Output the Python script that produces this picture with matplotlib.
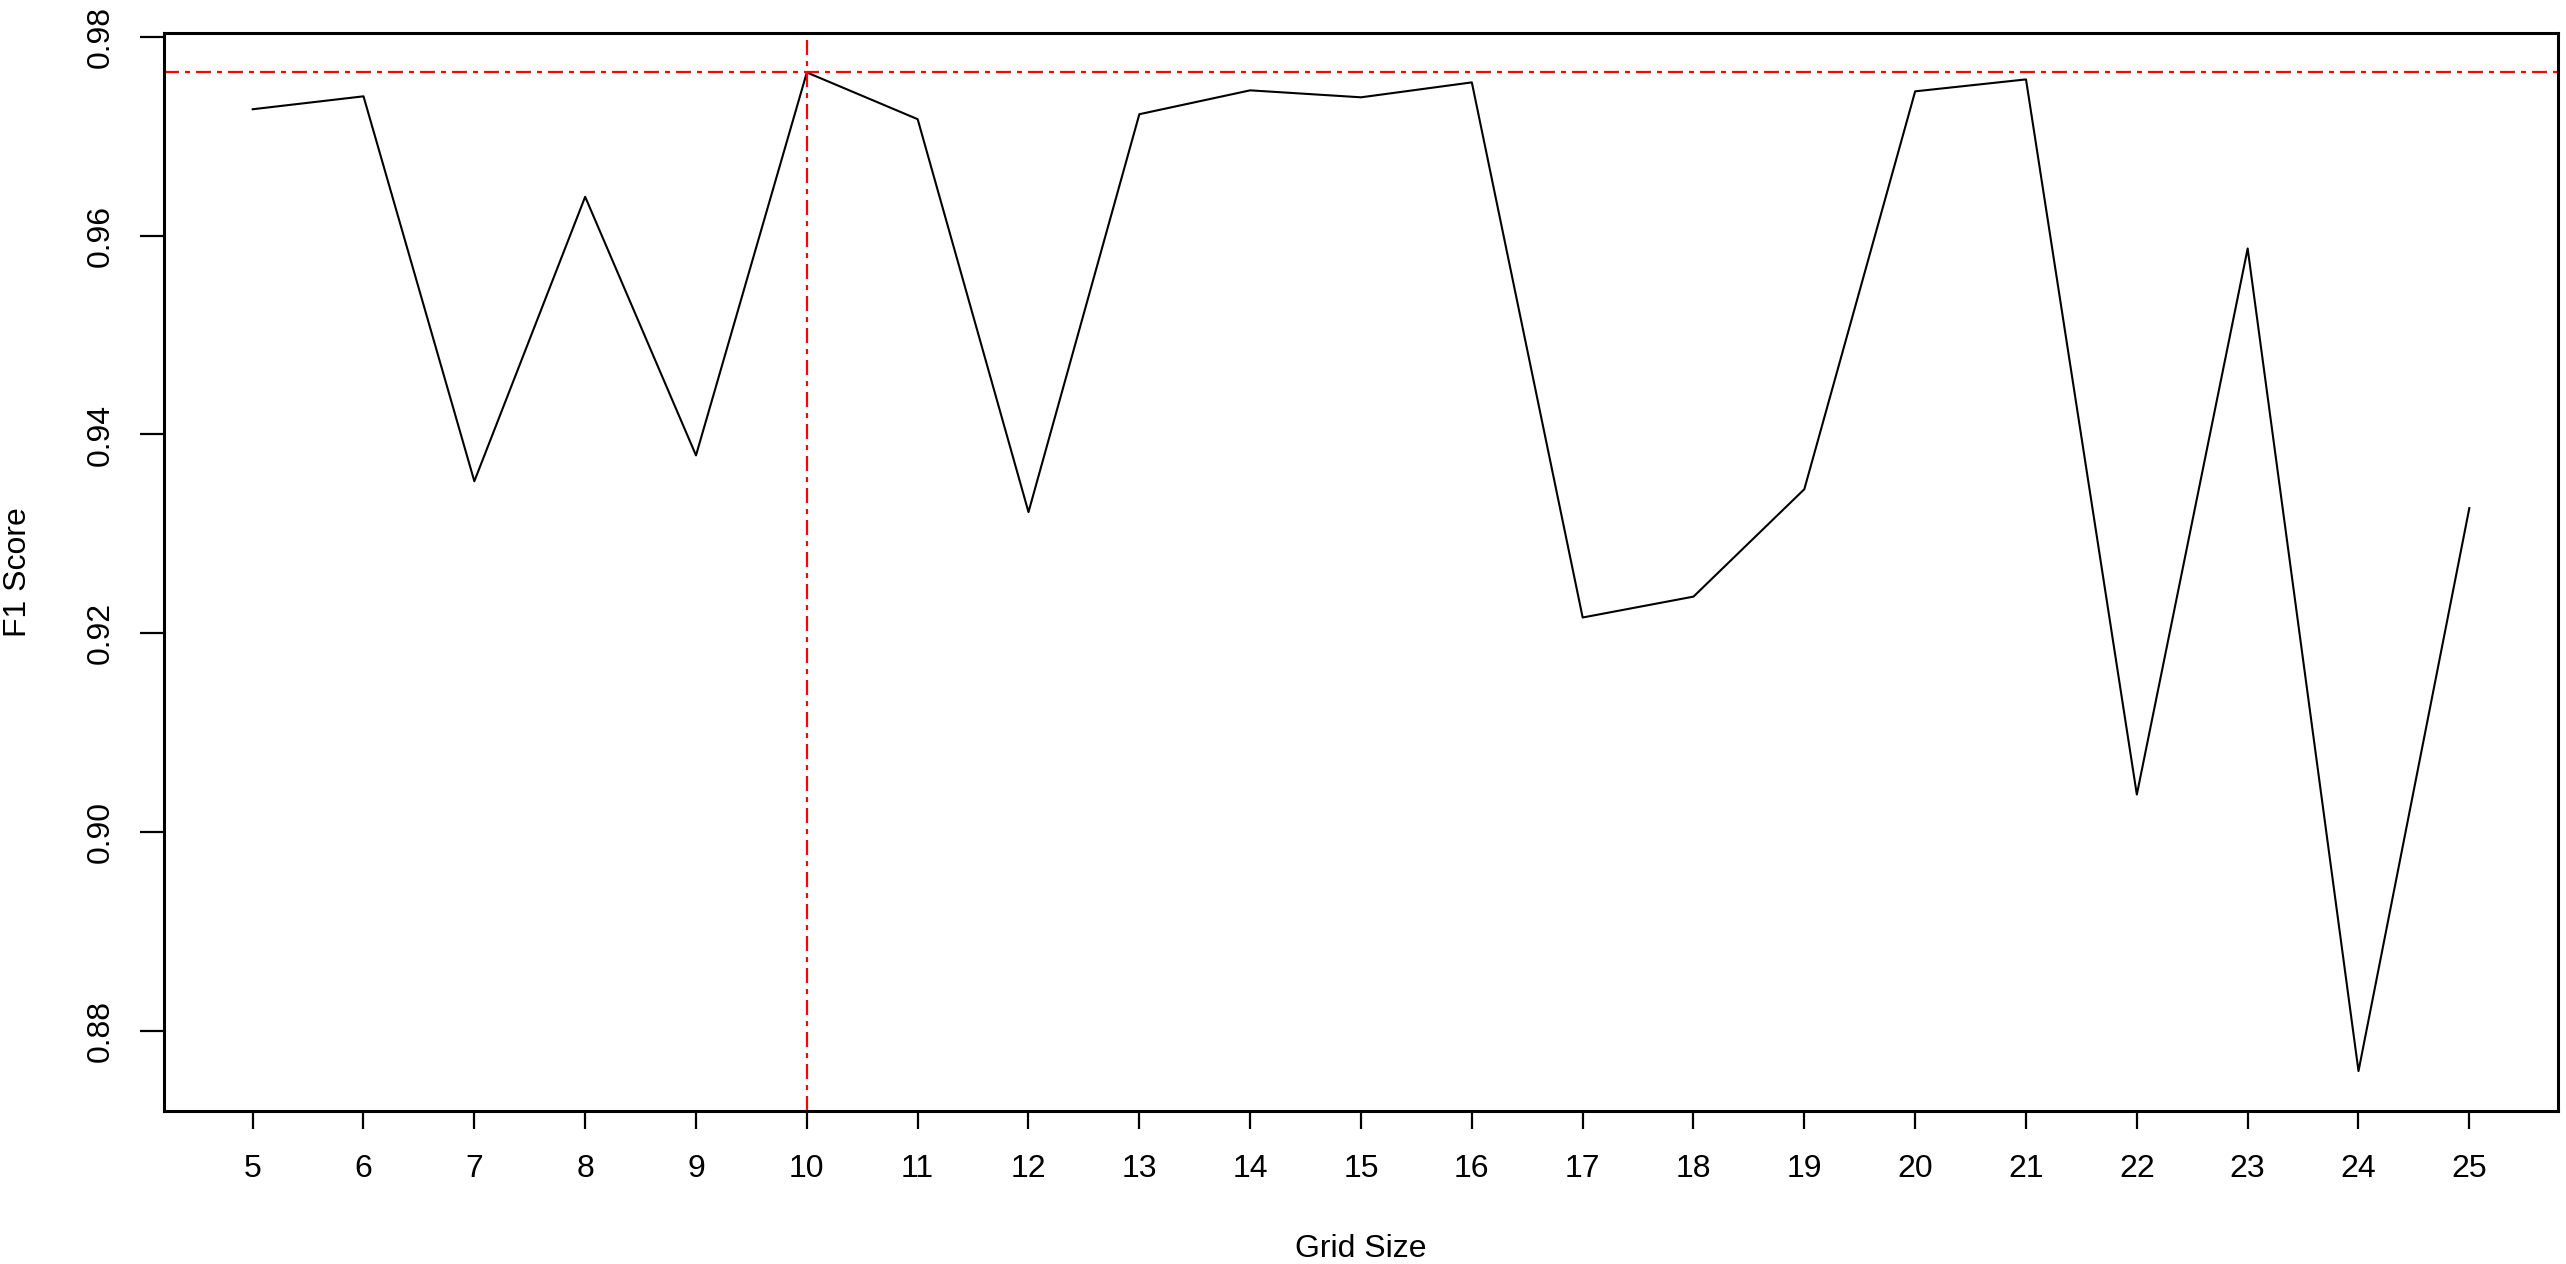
import matplotlib
matplotlib.use("Agg")
import matplotlib.pyplot as plt

plt.rcParams['font.family'] = ['Liberation Sans', 'DejaVu Sans']

grid_size = [5, 6, 7, 8, 9, 10, 11, 12, 13, 14, 15, 16, 17, 18, 19, 20, 21, 22, 23, 24, 25]
f1_score = [0.9727, 0.9740, 0.9353, 0.9639, 0.9379, 0.9764, 0.9717, 0.9322, 0.9722, 0.9746, 0.9739,
            0.9754, 0.9216, 0.9237, 0.9345, 0.9745, 0.9757, 0.9038, 0.9587, 0.8760, 0.9326]
y_ticks = [0.88, 0.90, 0.92, 0.94, 0.96, 0.98]

best = max(f1_score)
best_size = grid_size[f1_score.index(best)]

fig = plt.figure(figsize=(25.66, 12.64), dpi=100)
ax = fig.add_axes([164/2566, 1 - 1111/1264, (2558-164)/2566, (1111-32.5)/1264])

ax.plot(grid_size, f1_score, color='black', lw=1.5)
# dotdash like R lty=4
dotdash = (0, (6.75, 2.7, 2.25, 2.7))
ax.axhline(best, color='red', lw=1.6, ls=dotdash)
ax.axvline(best_size, color='red', lw=1.6, ls=dotdash)

# R style 4% padding around the data
pad_x = 0.04 * (max(grid_size) - min(grid_size))
pad_y = 0.04 * (max(f1_score) - min(f1_score))
ax.set_xlim(min(grid_size) - pad_x, max(grid_size) + pad_x)
ax.set_ylim(min(f1_score) - pad_y, max(f1_score) + pad_y)

ax.set_xticks(grid_size)
ax.set_xticklabels([str(g) for g in grid_size])
ax.set_yticks(y_ticks)
ax.set_yticklabels(['%.2f' % t for t in y_ticks], rotation=90, va='center')

ax.tick_params(axis='x', length=13, width=1.6, pad=18, labelsize=23)
ax.tick_params(axis='y', length=17, width=1.6, pad=18, labelsize=23)
for s in ax.spines.values():
    s.set_linewidth(2.2)

ax.set_xlabel('Grid Size', fontsize=23, labelpad=36)
ax.set_ylabel('F1 Score', fontsize=23, labelpad=38)

fig.savefig('out.png', dpi=100)
